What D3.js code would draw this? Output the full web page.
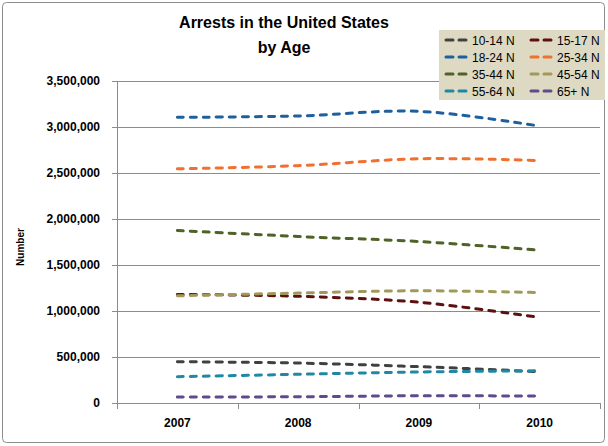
<!DOCTYPE html>
<html>
<head>
<meta charset="utf-8">
<script src="https://cdn.jsdelivr.net/npm/d3@7"></script>
<style>
  body { margin: 0; background: #fff; }
  svg text { font-family: "Liberation Sans", Arial, sans-serif; }
</style>
</head>
<body>
<div id="chart"></div>
<script>
var years = ["2007", "2008", "2009", "2010"];
var seriesNames = ["10-14 N", "15-17 N", "18-24 N", "25-34 N", "35-44 N", "45-54 N", "55-64 N", "65+ N"];
var age1014 = [449000, 434000, 395000, 340000];
var age1517 = [1180000, 1160000, 1095000, 930000];
var age1824 = [3105000, 3120000, 3170000, 3010000];
var age2534 = [2545000, 2580000, 2655000, 2635000];
var age3544 = [1875000, 1810000, 1755000, 1660000];
var age4554 = [1165000, 1195000, 1220000, 1200000];
var age5564 = [286000, 312000, 337000, 350000];
var age65 = [65000, 68000, 79000, 75000];
var yTicks = [0, 500000, 1000000, 1500000, 2000000, 2500000, 3000000, 3500000];
var colors = ["#404040", "#5c1010", "#1f5f9e", "#f07030", "#4f6228", "#a09a5a", "#2088a4", "#5f4b8b"];

var allValues = [age1014, age1517, age1824, age2534, age3544, age4554, age5564, age65];

var svgWidth = 608;
var svgHeight = 446;
var margin = { top: 81, right: 8, bottom: 43, left: 117 };
var width = svgWidth - margin.left - margin.right;
var height = svgHeight - margin.top - margin.bottom;

var svg = d3.select("#chart").append("svg")
  .attr("width", svgWidth)
  .attr("height", svgHeight);

svg.append("rect")
  .attr("x", 2.5).attr("y", 2.5)
  .attr("width", 602).attr("height", 440)
  .attr("rx", 4)
  .attr("fill", "#fff")
  .attr("stroke", "#8c8c8c");

var chartGroup = svg.append("g")
  .attr("transform", `translate(${margin.left}, ${margin.top})`);

var xScale = d3.scaleBand().domain(years).range([0, width]);
var yScale = d3.scaleLinear().domain([0, 3500000]).range([height, 0]);

// gridlines
chartGroup.selectAll(".grid")
  .data(yTicks.slice(1))
  .enter()
  .append("line")
  .attr("x1", 0).attr("x2", width)
  .attr("y1", d => yScale(d) + 0.5).attr("y2", d => yScale(d) + 0.5)
  .attr("stroke", "#8c8c8c");

var leftAxis = d3.axisLeft(yScale)
  .tickValues(yTicks)
  .tickSize(5)
  .tickPadding(12)
  .tickFormat(d3.format(","));

var yAxis = chartGroup.append("g").call(leftAxis);
yAxis.select(".domain").attr("stroke", "#8c8c8c");
yAxis.selectAll(".tick line").attr("stroke", "#8c8c8c");
yAxis.selectAll("text")
  .attr("font-size", "12px")
  .attr("font-weight", "bold")
  .attr("fill", "#000");

var bottomAxis = d3.axisBottom(xScale).tickSize(0).tickPadding(15);
var xAxis = chartGroup.append("g")
  .attr("transform", `translate(0, ${height})`)
  .call(bottomAxis);
xAxis.select(".domain").attr("stroke", "#8c8c8c");
xAxis.selectAll("text")
  .attr("font-size", "12px")
  .attr("font-weight", "bold")
  .attr("fill", "#000");

// category separators
var sepPos = [0].concat(years.map(y => xScale(y) + xScale.bandwidth()));
chartGroup.selectAll(".sep")
  .data(sepPos)
  .enter()
  .append("line")
  .attr("x1", d => Math.round(d) + 0.5).attr("x2", d => Math.round(d) + 0.5)
  .attr("y1", height).attr("y2", height + 6)
  .attr("stroke", "#8c8c8c");

var line = d3.line()
  .x((d, i) => xScale(years[i]) + xScale.bandwidth() / 2)
  .y(d => yScale(d))
  .curve(d3.curveCatmullRom.alpha(0.5));

chartGroup.selectAll(".series")
  .data(allValues)
  .enter()
  .append("path")
  .attr("d", d => line(d))
  .attr("fill", "none")
  .attr("stroke", (d, i) => colors[i])
  .attr("stroke-width", 3)
  .attr("stroke-linecap", "round")
  .attr("stroke-dasharray", "6,7");

// title
var title = svg.append("text")
  .attr("x", 284)
  .attr("text-anchor", "middle")
  .attr("font-size", "16px")
  .attr("font-weight", "bold")
  .attr("fill", "#000");
title.append("tspan").attr("x", 284).attr("y", 28).text("Arrests in the United States");
title.append("tspan").attr("x", 284).attr("y", 53).text("by Age");

// y axis label
svg.append("text")
  .attr("transform", "translate(24, 247) rotate(-90)")
  .attr("text-anchor", "middle")
  .attr("font-size", "10px")
  .attr("font-weight", "bold")
  .text("Number");

// legend
var legend = svg.append("g");
legend.append("rect")
  .attr("x", 439).attr("y", 30)
  .attr("width", 166).attr("height", 70)
  .attr("fill", "#ddd9c3");

var legendItems = legend.selectAll(".item")
  .data(seriesNames)
  .enter()
  .append("g")
  .attr("transform", (d, i) => `translate(${i % 2 === 0 ? 445 : 530}, ${40 + Math.floor(i / 2) * 17})`);

legendItems.append("line")
  .attr("x1", 1).attr("x2", 22)
  .attr("y1", 0).attr("y2", 0)
  .attr("stroke", (d, i) => colors[i])
  .attr("stroke-width", 3)
  .attr("stroke-linecap", "round")
  .attr("stroke-dasharray", "7,6");

legendItems.append("text")
  .attr("x", 27)
  .attr("y", 4.5)
  .attr("font-size", "12px")
  .attr("fill", "#000")
  .text(d => d);
</script>
</body>
</html>
